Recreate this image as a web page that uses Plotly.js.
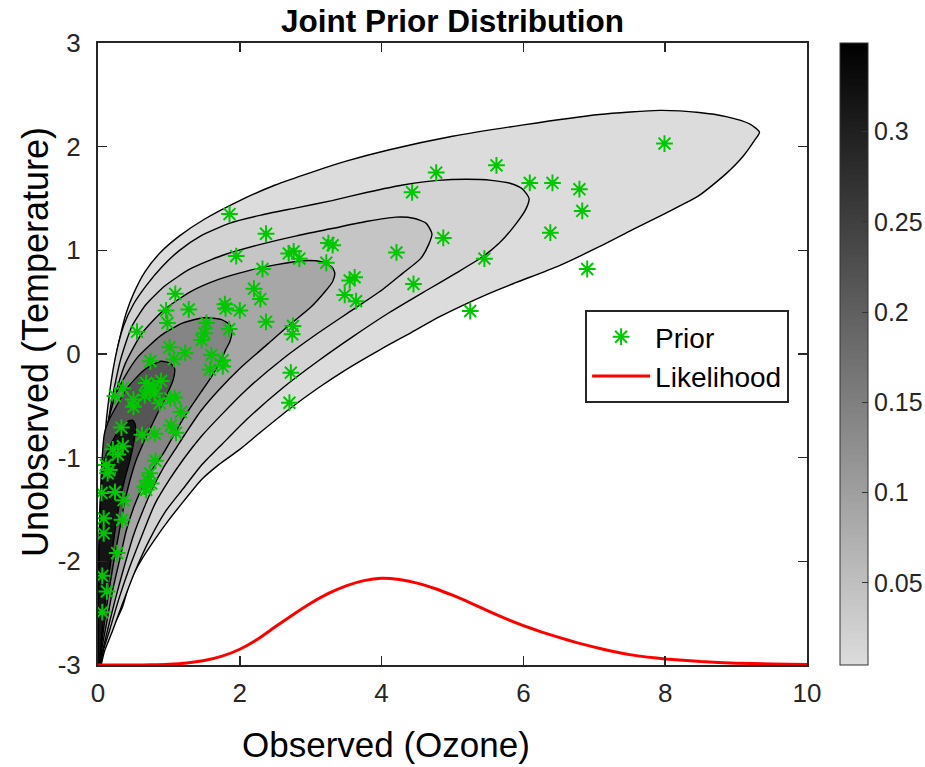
<!DOCTYPE html>
<html>
<head>
<meta charset="utf-8">
<script src="https://cdn.plot.ly/plotly-3.0.1.min.js"></script>
<style>
  html, body { margin: 0; padding: 0; background: #ffffff; }
  #chart { width: 925px; height: 767px; }
</style>
</head>
<body>
<div id="chart"></div>
<script>
// Joint prior of Observed (Ozone) vs Unobserved (Temperature):
// filled density contours, prior samples and the likelihood curve.

// Contour levels of the joint density (outermost first)
const levelValues = [0.005, 0.018, 0.04, 0.088, 0.14, 0.215, 0.318];
const colorMin = 0.0045;
const colorMax = 0.349;
const colorTicks = [0.05, 0.1, 0.15, 0.2, 0.25, 0.3];

// Each contour as [ozone, temperature] vertices: upper edge up to the tip, then lower edge back down
const contour0 = [
  [0.005,-3],[0.01,-2.5],[0.025,-2.0],[0.05,-1.5],[0.09,-1.0],[0.16,-0.5],[0.26,0.0],[0.33,0.22],
  [0.4,0.4],[0.5,0.58],[0.66,0.79],[0.88,0.98],[1.15,1.14],[1.5,1.3],[2.0,1.48],[2.5,1.63],
  [3.0,1.75],[3.5,1.86],[4.11,1.97],[5.0,2.1],[6.0,2.21],[7.07,2.31],[7.92,2.35],[8.48,2.33],
  [8.86,2.29],[9.19,2.22],[9.33,2.14],
  [9.26,2.06],[9.09,1.9],[8.86,1.74],[8.48,1.53],[8.01,1.36],[7.54,1.2],[7.07,1.035],[6.5,0.85],
  [5.9,0.69],[5.52,0.585],[4.82,0.36],[4.4,0.2],[4.0,0.05],[3.5,-0.15],[3.1,-0.33],[2.7,-0.53],
  [2.3,-0.75],[2.0,-0.92],[1.7,-1.07],[1.455,-1.215],[1.22,-1.41],[1.0,-1.6],[0.8,-1.79],[0.6,-2.0],
  [0.45,-2.2],[0.345,-2.44],[0.2,-2.65],[0.11,-2.78],[0.05,-2.9],[0.03,-3.0]
];
const contour1 = [
  [0.003,-3],[0.01,-2.3],[0.035,-1.6],[0.075,-1.0],[0.14,-0.5],[0.24,-0.05],[0.36,0.27],[0.5,0.48],
  [0.68,0.66],[0.9,0.84],[1.15,1.0],[1.45,1.14],[1.85,1.26],[2.3,1.34],[2.8,1.41],[3.3,1.48],
  [3.8,1.56],[4.3,1.63],[4.8,1.675],[5.2,1.685],[5.55,1.675],[5.82,1.645],[5.99,1.59],[6.08,1.5],
  [6.04,1.405],[5.9,1.26],[5.66,1.07],[5.43,0.94],[5.05,0.78],[4.65,0.62],[4.11,0.4],[3.6,0.17],
  [3.1,-0.07],[2.6,-0.33],[2.1,-0.63],[1.75,-0.87],[1.45,-1.08],[1.2,-1.3],[0.95,-1.52],[0.72,-1.8],
  [0.52,-2.1],[0.35,-2.4],[0.2,-2.68],[0.09,-2.87],[0.045,-3.0]
];
const contour2 = [
  [0.002,-3],[0.01,-2.2],[0.04,-1.5],[0.09,-1.0],[0.18,-0.5],[0.32,-0.05],[0.48,0.27],[0.68,0.48],
  [0.95,0.66],[1.3,0.82],[1.75,0.95],[2.25,1.05],[2.8,1.14],[3.3,1.21],[3.8,1.28],[4.2,1.32],
  [4.45,1.31],[4.63,1.26],[4.71,1.16],
  [4.66,1.05],[4.55,0.92],[4.3,0.78],[4.01,0.62],[3.6,0.43],[3.1,0.2],[2.6,-0.05],[2.1,-0.34],
  [1.75,-0.58],[1.45,-0.8],[1.2,-1.02],[1.0,-1.22],[0.8,-1.45],[0.62,-1.75],[0.45,-2.05],[0.3,-2.35],
  [0.17,-2.65],[0.08,-2.85],[0.035,-3.0]
];
const contour3 = [
  [0.002,-3],[0.01,-2.2],[0.035,-1.5],[0.09,-1.0],[0.2,-0.5],[0.38,-0.1],[0.62,0.2],[0.92,0.42],
  [1.3,0.6],[1.7,0.72],[2.1,0.8],[2.5,0.86],[2.9,0.9],[3.15,0.89],[3.3,0.84],[3.34,0.78],
  [3.31,0.7],[3.2,0.6],[3.0,0.45],[2.7,0.28],[2.4,0.1],[2.0,-0.14],[1.7,-0.35],[1.45,-0.55],
  [1.25,-0.75],[1.08,-0.93],[0.92,-1.1],[0.78,-1.28],[0.64,-1.5],[0.5,-1.75],[0.37,-2.05],[0.25,-2.35],
  [0.14,-2.65],[0.07,-2.85],[0.03,-3.0]
];
const contour4 = [
  [0.001,-3],[0.008,-2.2],[0.03,-1.5],[0.08,-1.0],[0.16,-0.6],[0.28,-0.35],[0.42,-0.17],[0.56,-0.03],
  [0.89,0.18],[1.2,0.3],[1.5,0.35],[1.75,0.33],[1.86,0.28],[1.89,0.22],
  [1.86,0.12],[1.8,0.04],[1.72,-0.08],[1.6,-0.22],[1.45,-0.37],[1.31,-0.51],[1.18,-0.65],[1.08,-0.77],
  [0.93,-0.95],[0.78,-1.1],[0.65,-1.25],[0.52,-1.45],[0.4,-1.7],[0.3,-2.0],[0.2,-2.3],[0.12,-2.6],
  [0.06,-2.82],[0.025,-3.0]
];
const contour5 = [
  [0.001,-3],[0.006,-2.3],[0.025,-1.6],[0.05,-1.1],[0.09,-0.77],[0.16,-0.63],[0.23,-0.54],[0.42,-0.32],
  [0.66,-0.15],[0.89,-0.07],[1.02,-0.09],[1.08,-0.14],
  [1.06,-0.25],[0.96,-0.41],[0.82,-0.6],[0.66,-0.83],[0.54,-1.02],[0.45,-1.22],[0.37,-1.45],[0.29,-1.75],
  [0.21,-2.05],[0.14,-2.35],[0.08,-2.65],[0.04,-2.85],[0.02,-3.0]
];
const contour6 = [
  [0.001,-3],[0.005,-2.5],[0.02,-1.8],[0.045,-1.3],[0.09,-1.02],[0.19,-0.86],[0.3,-0.73],[0.42,-0.65],
  [0.49,-0.64],[0.52,-0.67],
  [0.53,-0.72],[0.51,-0.83],[0.46,-1.0],[0.38,-1.2],[0.3,-1.45],[0.23,-1.75],[0.17,-2.05],[0.11,-2.35],
  [0.07,-2.6],[0.035,-2.85],[0.015,-3.0]
];
const contours = [contour0, contour1, contour2, contour3, contour4, contour5, contour6];

// Prior samples
const priorX = [
  7.99,5.62,4.77,4.43,6.09,6.41,6.79,6.83,6.38,4.87,4.21,5.45,6.90,4.45,5.25,
  1.855,2.37,1.95,2.69,2.76,2.84,3.25,3.31,3.22,2.32,3.55,3.62,3.48,3.64,2.20,2.29,1.79,1.80,2.00,2.37,
  2.75,2.74,1.85,1.53,1.50,1.46,1.60,1.76,1.58,1.76,2.72,2.70,
  1.09,0.96,1.28,0.98,0.55,1.01,1.23,1.07,0.74,0.68,0.78,0.89,0.73,0.80,0.66,0.35,0.24,0.50,0.50,
  0.87,1.02,1.08,1.17,1.03,1.10,0.33,0.62,0.80,0.21,0.35,0.28,0.81,
  0.11,0.16,0.135,0.73,0.70,0.66,0.75,0.68,0.05,0.24,0.36,0.08,0.34,0.08,0.27,0.06,0.125,0.06
];
const priorY = [
  2.03,1.82,1.75,1.56,1.65,1.65,1.59,1.38,1.17,1.12,0.98,0.92,0.82,0.675,0.415,
  1.35,1.16,0.945,0.97,0.99,0.92,1.07,1.05,0.88,0.82,0.71,0.74,0.57,0.51,0.63,0.53,0.48,0.44,0.42,0.31,
  0.27,0.19,0.24,0.30,0.20,0.135,-0.01,-0.06,-0.15,-0.12,-0.18,-0.47,
  0.58,0.42,0.43,0.30,0.215,0.065,0.01,-0.05,-0.07,-0.28,-0.31,-0.26,-0.35,-0.38,-0.40,-0.33,-0.405,-0.44,-0.51,
  -0.475,-0.43,-0.42,-0.56,-0.69,-0.76,-0.71,-0.78,-0.77,-0.92,-0.89,-0.97,-1.03,
  -1.07,-1.12,-1.15,-1.15,-1.22,-1.28,-1.25,-1.31,-1.34,-1.33,-1.41,-1.585,-1.60,-1.73,-1.92,-2.14,-2.29,-2.49
];

// Likelihood of the ozone observation, drawn on the temperature axis from -3
const likeX = [0, 0.5, 0.75, 1, 1.25, 1.5, 1.75, 2, 2.25, 2.5, 2.75, 3, 3.25, 3.5, 3.75, 4, 4.25, 4.5,
               4.75, 5, 5.25, 5.5, 5.75, 6, 6.25, 6.5, 6.75, 7, 7.25, 7.5, 7.75, 8, 8.5, 9, 9.5, 10];
const likeY = [-3.0, -2.9995, -2.998, -2.993, -2.981, -2.957, -2.915, -2.848, -2.752, -2.632, -2.515,
               -2.405, -2.31, -2.236, -2.186, -2.164, -2.176, -2.21, -2.262, -2.327, -2.4, -2.478,
               -2.553, -2.62, -2.68, -2.734, -2.784, -2.828, -2.867, -2.9, -2.924, -2.942, -2.967,
               -2.982, -2.99, -2.994];

const fontFamily = 'Liberation Sans, Arial, Helvetica, sans-serif';
const grayScale = [[0, 'rgb(220,220,220)'], [1, 'rgb(0,0,0)']];

function grayFor(v) {
  const t = Math.min(1, Math.max(0, (v - colorMin) / (colorMax - colorMin)));
  const g = Math.round(220 * (1 - t));
  return 'rgb(' + g + ',' + g + ',' + g + ')';
}

const traces = contours.map(function (poly, i) {
  return {
    type: 'scatter', mode: 'lines',
    x: poly.map(function (p) { return p[0]; }),
    y: poly.map(function (p) { return p[1]; }),
    fill: 'toself', fillcolor: grayFor(levelValues[i]),
    line: { color: '#000000', width: 1.4, shape: 'spline', smoothing: 0.6 },
    hoverinfo: 'skip', showlegend: false
  };
});

traces.push({
  type: 'scatter', mode: 'markers', name: 'Prior',
  x: priorX, y: priorY,
  marker: { symbol: 'asterisk-open', size: 14, color: '#00c800',
            line: { color: '#00c800', width: 2 } }
});

traces.push({
  type: 'scatter', mode: 'lines', name: 'Likelihood',
  x: likeX, y: likeY,
  line: { color: '#ff0000', width: 3, shape: 'spline', smoothing: 0.5 }
});

// Colour scale for the density levels
traces.push({
  type: 'scatter', mode: 'markers', x: [-1], y: [-4],
  showlegend: false, hoverinfo: 'skip',
  marker: {
    size: 1, color: [colorMin], cmin: colorMin, cmax: colorMax, colorscale: grayScale,
    showscale: true,
    colorbar: {
      x: 1.0465, xanchor: 'left', xref: 'paper', xpad: 0,
      y: 0.5, yanchor: 'middle', len: 1, lenmode: 'fraction', ypad: 0,
      thickness: 28, thicknessmode: 'pixels',
      outlinewidth: 1, outlinecolor: '#333333',
      ticks: 'inside', ticklen: 6, tickwidth: 1, tickcolor: '#333333',
      tickvals: colorTicks, ticktext: colorTicks.map(String),
      tickfont: { family: fontFamily, size: 25, color: '#262626' }
    }
  }
});

const axisCommon = {
  showline: true, linecolor: '#262626', linewidth: 2, mirror: 'ticks',
  ticks: 'inside', ticklen: 9, tickwidth: 1.5, tickcolor: '#262626',
  showgrid: false, zeroline: false,
  tickfont: { family: fontFamily, size: 26, color: '#262626' }
};

const layout = {
  width: 925, height: 767,
  margin: { l: 98, r: 118, t: 43, b: 102, autoexpand: false },
  paper_bgcolor: '#ffffff', plot_bgcolor: '#ffffff',
  font: { family: fontFamily, color: '#000000' },
  title: {
    text: 'Joint Prior Distribution',
    font: { family: fontFamily, size: 31.5, color: '#000000', weight: 'bold' },
    x: 0.5, xref: 'paper', xanchor: 'center',
    y: 0.973, yref: 'container', yanchor: 'middle'
  },
  xaxis: Object.assign({}, axisCommon, {
    range: [0, 10], tickvals: [0, 2, 4, 6, 8, 10], ticktext: ['0', '2', '4', '6', '8', '10'],
    ticklabelstandoff: 4
  }),
  yaxis: Object.assign({}, axisCommon, {
    range: [-3, 3], tickvals: [-3, -2, -1, 0, 1, 2, 3], ticktext: ['-3', '-2', '-1', '0', '1', '2', '3'],
    ticklabelstandoff: 10
  }),
  annotations: [
    { text: 'Observed (Ozone)', xref: 'paper', yref: 'paper', x: 0.406, y: -0.1286,
      xanchor: 'center', yanchor: 'middle', showarrow: false,
      font: { family: fontFamily, size: 35, color: '#000000' } },
    { text: 'Unobserved (Temperature)', xref: 'paper', yref: 'paper', x: -0.089, y: 0.519,
      xanchor: 'center', yanchor: 'middle', showarrow: false, textangle: -90,
      font: { family: fontFamily, size: 36, color: '#000000' } }
  ],
  legend: {
    x: 0.687, y: 0.5707, xanchor: 'left', yanchor: 'top',
    bgcolor: '#ffffff', bordercolor: '#262626', borderwidth: 2,
    itemwidth: 58,
    font: { family: fontFamily, size: 28, color: '#000000' }
  },
  showlegend: true
};

Plotly.newPlot('chart', traces, layout, { displayModeBar: false, staticPlot: true });
</script>
</body>
</html>
